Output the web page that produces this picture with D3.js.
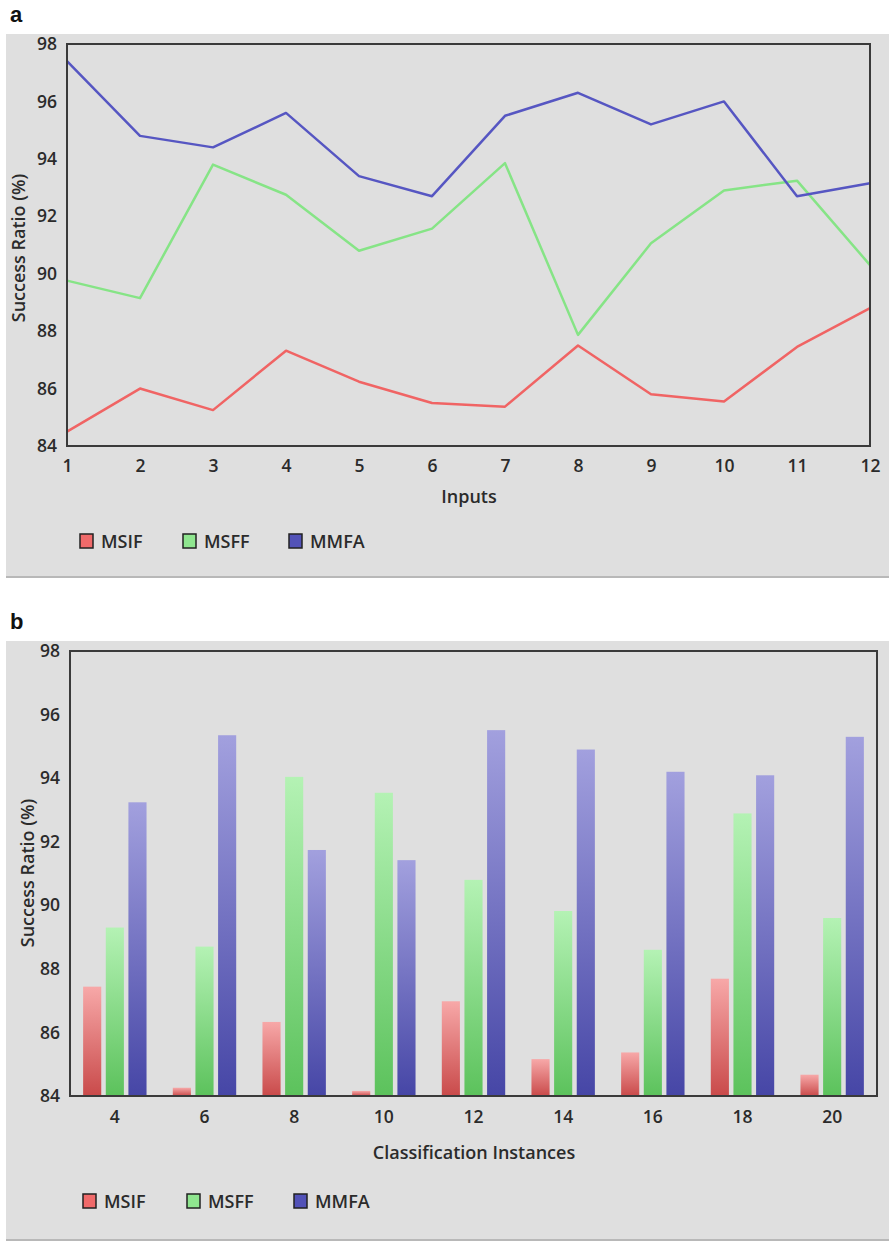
<!DOCTYPE html>
<html>
<head>
<meta charset="utf-8">
<script src="https://cdn.jsdelivr.net/npm/d3@7"></script>
<style>
  html, body { margin: 0; padding: 0; background: #fff; }
  svg { display: block; }
</style>
</head>
<body>
<svg id="chart" width="889" height="1241"></svg>
<script>
// Panel (a): success ratio per input count
const inputs = [1, 2, 3, 4, 5, 6, 7, 8, 9, 10, 11, 12];
const lineMSIF = [84.5, 86.0, 85.25, 87.32, 86.24, 85.5, 85.37, 87.5, 85.8, 85.55, 87.45, 88.8];
const lineMSFF = [89.76, 89.15, 93.8, 92.75, 90.8, 91.57, 93.85, 87.87, 91.06, 92.9, 93.24, 90.3];
const lineMMFA = [97.4, 94.8, 94.4, 95.6, 93.4, 92.7, 95.5, 96.3, 95.2, 96.0, 92.7, 93.15];

// Panel (b): success ratio per classification instance count
const instances = ["4", "6", "8", "10", "12", "14", "16", "18", "20"];
const barMSIF = [87.44, 84.26, 86.33, 84.16, 86.98, 85.16, 85.37, 87.69, 84.67];
const barMSFF = [89.3, 88.7, 94.04, 93.54, 90.8, 89.82, 88.6, 92.89, 89.6];
const barMMFA = [93.24, 95.35, 91.74, 91.42, 95.51, 94.9, 94.2, 94.09, 95.3];

const yTicks = [84, 86, 88, 90, 92, 94, 96, 98];
const seriesNames = ["MSIF", "MSFF", "MMFA"];

const lineColors = { MSIF: "#f06464", MSFF: "#86e486", MMFA: "#5656c2" };
const swatchColors = { MSIF: "#f06a6a", MSFF: "#8fe68f", MMFA: "#5252b8" };
const barGrad = {
  MSIF: ["#f7a8a8", "#c94a4a"],
  MSFF: ["#b4f2b4", "#5cc25c"],
  MMFA: ["#a2a0de", "#4646a6"]
};

const svg = d3.select("#chart");
const FONT = "'Open Sans', 'Noto Sans', sans-serif";
const TEXT = "#2b2b2b";
const TICK_SIZE = 17.5;
const TITLE_SIZE = 18;

const defs = svg.append("defs");
seriesNames.forEach(n => {
  const g = defs.append("linearGradient")
    .attr("id", "grad-" + n)
    .attr("x1", 0).attr("y1", 0).attr("x2", 0).attr("y2", 1);
  g.append("stop").attr("offset", "0%").attr("stop-color", barGrad[n][0]);
  g.append("stop").attr("offset", "100%").attr("stop-color", barGrad[n][1]);
});

function panelBackground(y0, y1, letter) {
  svg.append("rect")
    .attr("x", 6).attr("y", y0).attr("width", 883).attr("height", y1 - y0)
    .attr("fill", "#dfdfdf");
  svg.append("line")
    .attr("x1", 6).attr("x2", 889).attr("y1", y1 - 1).attr("y2", y1 - 1)
    .attr("stroke", "#b8b8b8").attr("stroke-width", 2);
  svg.append("text")
    .attr("x", 10).attr("y", y0 - 12)
    .attr("font-family", "'Liberation Sans', Arial, sans-serif")
    .attr("font-weight", "bold").attr("font-size", 22)
    .attr("fill", "#111").text(letter);
}

function styleAxisText(sel) {
  sel.selectAll("text")
    .attr("font-family", FONT).attr("font-size", TICK_SIZE)
    .attr("font-weight", 600).attr("fill", TEXT);
  sel.select(".domain").remove();
  sel.selectAll(".tick line").remove();
}

function frame(x0, y0, x1, y1) {
  svg.append("rect")
    .attr("x", x0).attr("y", y0).attr("width", x1 - x0).attr("height", y1 - y0)
    .attr("fill", "none").attr("stroke", "#3a3a3a").attr("stroke-width", 2);
}

function yTitle(x, cy) {
  svg.append("text")
    .attr("transform", `translate(${x},${cy}) rotate(-90)`)
    .attr("text-anchor", "middle")
    .attr("font-family", FONT).attr("font-size", TITLE_SIZE).attr("font-weight", 600)
    .attr("fill", TEXT).text("Success Ratio (%)");
}

function xTitle(cx, y, label) {
  svg.append("text")
    .attr("x", cx).attr("y", y).attr("text-anchor", "middle")
    .attr("font-family", FONT).attr("font-size", TITLE_SIZE).attr("font-weight", 600)
    .attr("fill", TEXT).text(label);
}

function legend(y, xs) {
  seriesNames.forEach((n, i) => {
    svg.append("rect")
      .attr("x", xs[i]).attr("y", y - 7).attr("width", 13).attr("height", 14)
      .attr("fill", swatchColors[n]).attr("stroke", "#222").attr("stroke-width", 1.5);
    svg.append("text")
      .attr("x", xs[i] + 21).attr("y", y + 6.5)
      .attr("font-family", FONT).attr("font-size", 18).attr("font-weight", 600)
      .attr("fill", TEXT).text(n);
  });
}

// ---------- Panel a: line chart ----------
panelBackground(34, 578, "a");
const A = { left: 67, right: 870, top: 44, bottom: 446 };
const xA = d3.scaleLinear().domain([1, 12]).range([A.left, A.right]);
const yA = d3.scaleLinear().domain([84, 98]).range([A.bottom, A.top]);

svg.append("g")
  .attr("transform", `translate(${A.left - 8},0)`)
  .call(d3.axisLeft(yA).tickValues(yTicks).tickSize(0).tickPadding(2))
  .call(styleAxisText);
svg.append("g")
  .attr("transform", `translate(0,${A.bottom + 11})`)
  .call(d3.axisBottom(xA).tickValues(inputs).tickSize(0).tickPadding(3))
  .call(styleAxisText);

const lineGen = d3.line().x((d, i) => xA(inputs[i])).y(d => yA(d));
[["MSIF", lineMSIF], ["MSFF", lineMSFF], ["MMFA", lineMMFA]].forEach(([n, vals]) => {
  svg.append("path")
    .datum(vals)
    .attr("d", lineGen)
    .attr("fill", "none")
    .attr("stroke", lineColors[n])
    .attr("stroke-width", 2.5)
    .attr("stroke-linejoin", "round");
});
frame(A.left, A.top, A.right, A.bottom);

xTitle(469, 503, "Inputs");
yTitle(25, 248);
legend(541, [80, 183, 289]);

// ---------- Panel b: grouped bar chart ----------
panelBackground(641, 1241, "b");
const B = { left: 70, right: 877, top: 651, bottom: 1096 };
const xB = d3.scaleBand().domain(instances).range([B.left, B.right]).padding(0);
const yB = d3.scaleLinear().domain([84, 98]).range([B.bottom, B.top]);
const xInner = d3.scaleBand().domain(seriesNames)
  .range([0, xB.bandwidth()]).paddingInner(0.2).paddingOuter(0.58);

svg.append("g")
  .attr("transform", `translate(${B.left - 8},0)`)
  .call(d3.axisLeft(yB).tickValues(yTicks).tickSize(0).tickPadding(2))
  .call(styleAxisText);
svg.append("g")
  .attr("transform", `translate(0,${B.bottom + 12})`)
  .call(d3.axisBottom(xB).tickSize(0).tickPadding(3))
  .call(styleAxisText);

const barData = { MSIF: barMSIF, MSFF: barMSFF, MMFA: barMMFA };
instances.forEach((c, i) => {
  seriesNames.forEach(n => {
    const v = barData[n][i];
    svg.append("rect")
      .attr("x", xB(c) + xInner(n))
      .attr("y", yB(v))
      .attr("width", xInner.bandwidth())
      .attr("height", yB(84) - yB(v))
      .attr("fill", `url(#grad-${n})`);
  });
});
frame(B.left, B.top, B.right, B.bottom);

xTitle(474, 1159, "Classification Instances");
yTitle(34, 873);
legend(1201, [83, 187, 294]);
</script>
</body>
</html>
